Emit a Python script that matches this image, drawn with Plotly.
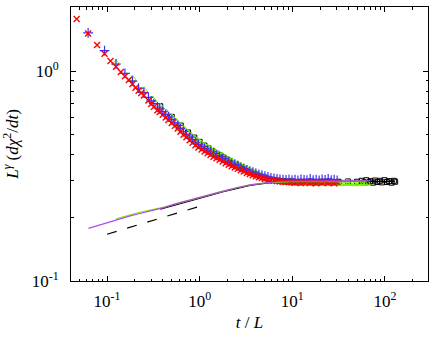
import plotly.graph_objects as go

# ---- data ----
grid_x = [0.28, 0.30, 0.32, 0.35, 0.37, 0.40, 0.43, 0.46, 0.50, 0.54, 0.58, 0.62, 0.67, 0.72, 0.78, 0.84,
          0.90, 0.97, 1.05, 1.13, 1.22, 1.31, 1.41, 1.52, 1.64, 1.77, 1.91, 2.06, 2.22, 2.39, 2.58, 2.78,
          3.0, 3.23, 3.48, 3.75, 4.04, 4.36, 4.70, 5.06, 5.46, 5.88, 6.34, 6.83, 7.36, 7.94, 8.56, 9.22,
          9.94, 10.7, 11.5, 12.4, 13.4, 14.4, 15.6, 16.8, 18.1, 19.5, 21.0, 22.6, 24.4, 26.3, 28.3, 30.5]

red_x = [0.047, 0.0625, 0.078, 0.094, 0.109, 0.125, 0.141, 0.156, 0.172, 0.188, 0.203, 0.219, 0.234, 0.25] + grid_x
red_y = [1.77, 1.51, 1.33, 1.21, 1.116, 1.048, 0.99, 0.945, 0.906, 0.868, 0.832, 0.805, 0.785, 0.765,
         0.724, 0.697, 0.675, 0.651, 0.638, 0.619, 0.601, 0.585, 0.565, 0.548, 0.532, 0.514, 0.497, 0.484, 0.468, 0.455,
         0.443, 0.432, 0.423, 0.414, 0.406, 0.398, 0.391, 0.384, 0.378, 0.371, 0.364, 0.358, 0.352, 0.347, 0.342, 0.337,
         0.332, 0.327, 0.323, 0.319, 0.315, 0.312, 0.309, 0.306, 0.304, 0.302, 0.300, 0.299, 0.298, 0.297, 0.296, 0.295,
         0.296, 0.294, 0.296, 0.293, 0.295, 0.297, 0.293, 0.295, 0.292, 0.296, 0.294, 0.297, 0.293, 0.295, 0.292, 0.296]

blue_x = [0.0625, 0.094, 0.125, 0.156, 0.188, 0.219, 0.25] + grid_x
blue_y = [1.52, 1.25, 1.08, 0.975, 0.895, 0.83, 0.79,
          0.749, 0.721, 0.699, 0.674, 0.660, 0.641, 0.622, 0.605, 0.585, 0.567, 0.551, 0.532, 0.514, 0.501, 0.484, 0.471,
          0.458, 0.447, 0.438, 0.428, 0.420, 0.412, 0.405, 0.397, 0.391, 0.384, 0.377, 0.370, 0.364, 0.359, 0.354, 0.348,
          0.343, 0.338, 0.334, 0.330, 0.326, 0.322, 0.319, 0.316, 0.313, 0.310, 0.308, 0.306, 0.305, 0.304, 0.303, 0.305,
          0.302, 0.304, 0.301, 0.305, 0.303, 0.302, 0.306, 0.302, 0.304, 0.301, 0.305, 0.303, 0.306, 0.302, 0.304, 0.301]

green_x = [0.125, 0.1875, 0.25, 0.3125, 0.375, 0.4375, 0.5, 0.5625, 0.625, 0.6875, 0.75, 0.8125, 0.875, 0.9375, 1.0] \
    + grid_x[18:] + [32.9, 35.4, 38.2, 41.1, 44.3, 47.8, 51.5, 55.5, 59.8, 63.5]
green_y = [1.09, 0.92, 0.81, 0.73, 0.675, 0.634, 0.602, 0.572, 0.546, 0.525, 0.506, 0.491, 0.478, 0.466, 0.457,
           0.450, 0.441, 0.432, 0.424, 0.416, 0.408, 0.401, 0.394, 0.386, 0.379, 0.372, 0.366, 0.360, 0.354,
           0.348, 0.342, 0.336, 0.331, 0.326, 0.321, 0.316, 0.312, 0.308, 0.305, 0.302, 0.300, 0.298, 0.296, 0.295, 0.294,
           0.292, 0.294, 0.291, 0.293, 0.290, 0.294, 0.292, 0.290, 0.293, 0.291, 0.294, 0.290, 0.292, 0.294, 0.291, 0.293,
           0.290, 0.292, 0.294, 0.291, 0.293, 0.290, 0.292, 0.294, 0.291, 0.293]

black_x = [0.375, 0.5, 0.625, 0.75, 0.875, 1.0, 1.125, 1.25, 1.375, 1.5, 1.625, 1.75, 1.875, 2.0, 2.25, 2.5, 2.75,
           3.0, 3.5, 4.0, 4.5, 5.0, 5.6, 6.3, 7.1, 8.0, 9.0, 10.0, 12.6, 15.8, 20.0, 25.0, 31.6, 39.8, 50.0,
           56, 60, 63, 66, 70, 74, 78, 83, 88, 93, 99, 105, 111, 118, 125, 129]
black_y = [0.68, 0.605, 0.55, 0.51, 0.482, 0.46, 0.442, 0.428, 0.416, 0.405, 0.397, 0.389, 0.382, 0.376, 0.365, 0.356, 0.348,
           0.341, 0.331, 0.322, 0.316, 0.311, 0.306, 0.303, 0.301, 0.299, 0.298, 0.298, 0.297, 0.298, 0.297, 0.298, 0.297, 0.298, 0.297,
           0.300, 0.295, 0.302, 0.296, 0.299, 0.294, 0.301, 0.296, 0.300, 0.295, 0.302, 0.296, 0.299, 0.294, 0.300, 0.297]

purple_x = [0.063, 0.08, 0.1, 0.13, 0.17, 0.22, 0.3, 0.4, 0.55, 0.75, 1.0, 1.35, 1.8, 2.5, 3.5, 5.0, 7.0, 10, 15, 25, 40, 70]
purple_y = [0.178, 0.184, 0.19, 0.197, 0.203, 0.209, 0.216, 0.223, 0.233, 0.242, 0.250, 0.259, 0.268, 0.278, 0.287, 0.293,
            0.297, 0.298, 0.299, 0.299, 0.300, 0.300]

gline_x = [0.125, 0.17, 0.22, 0.3, 0.4, 0.55, 0.75, 1.0, 1.35, 1.8, 2.5, 3.5, 5.0, 7.0, 10, 20, 40, 64]
gline_y = [0.198, 0.206, 0.212, 0.218, 0.224, 0.233, 0.242, 0.250, 0.259, 0.268, 0.278, 0.287, 0.293, 0.296, 0.297, 0.297, 0.297, 0.297]

kline_x = [0.375, 0.55, 0.75, 1.0, 1.35, 1.8, 2.5, 3.5, 5.0, 7.0, 10, 20, 50, 128]
kline_y = [0.220, 0.231, 0.240, 0.248, 0.257, 0.266, 0.276, 0.285, 0.292, 0.296, 0.297, 0.298, 0.298, 0.298]

dash_x = [0.1, 0.97]
dash_y = [0.167, 0.226]

x_tickvals = [0.1, 1, 10, 100]
x_ticktext = ["10<sup>-1</sup>", "10<sup>0</sup>", "10<sup>1</sup>", "10<sup>2</sup>"]
y_tickvals = [0.1, 1]
y_ticktext = ["10<sup>-1</sup>", "10<sup>0</sup>"]

assert len(red_x) == len(red_y) and len(blue_x) == len(blue_y) and len(green_x) == len(green_y)
assert len(black_x) == len(black_y)

RED = "#ff0000"
BLUE = "#3333ff"
GREEN = "#77ee00"
BLACK = "#000000"
PURPLE = "#b048e8"

fig = go.Figure()
fig.add_trace(go.Scatter(x=black_x, y=black_y, mode="markers",
                         marker=dict(symbol="square-open", size=5, color=BLACK, line=dict(width=1, color=BLACK))))
fig.add_trace(go.Scatter(x=green_x, y=green_y, mode="markers",
                         marker=dict(symbol="triangle-up-open", size=7, color=GREEN, line=dict(width=1, color=GREEN))))
fig.add_trace(go.Scatter(x=blue_x, y=blue_y, mode="markers",
                         marker=dict(symbol="cross-thin", size=7, color=BLUE, line=dict(width=1.2, color=BLUE))))
fig.add_trace(go.Scatter(x=red_x, y=red_y, mode="markers",
                         marker=dict(symbol="x-thin", size=6, color=RED, line=dict(width=1.4, color=RED))))
fig.add_trace(go.Scatter(x=kline_x, y=kline_y, mode="lines", line=dict(color=BLACK, width=1.2)))
fig.add_trace(go.Scatter(x=gline_x, y=gline_y, mode="lines", line=dict(color=GREEN, width=1.2)))
fig.add_trace(go.Scatter(x=purple_x, y=purple_y, mode="lines", line=dict(color=PURPLE, width=1.2)))
fig.add_trace(go.Scatter(x=dash_x, y=dash_y, mode="lines", line=dict(color=BLACK, width=1.2, dash="10px,11px")))

# minor tick positions (2..9 within each decade)
x_minor = [k * 10.0 ** e for e in range(-2, 3) for k in range(2, 10)]
y_minor = [k * 10.0 ** e for e in range(-1, 1) for k in range(2, 10)]

FONT = "Liberation Serif"
axis_common = dict(showline=True, linecolor="black", linewidth=1, mirror="allticks",
                   ticks="inside", ticklen=5, tickcolor="black", showgrid=False, zeroline=False,
                   tickfont=dict(family=FONT, size=17, color="black"))

fig.update_xaxes(type="log", range=[-1.389, 2.465], tickvals=x_tickvals, ticktext=x_ticktext,
                 ticklabelstandoff=5,
                 minor=dict(ticks="inside", ticklen=2.5, tickcolor="black", showgrid=False, tickvals=x_minor),
                 title=dict(text="<i>t</i> / <i>L</i>", font=dict(family=FONT, size=17, color="black"), standoff=5),
                 **axis_common)
fig.update_yaxes(type="log", range=[-1, 0.305], tickvals=y_tickvals, ticktext=y_ticktext,
                 ticklabelstandoff=8,
                 minor=dict(ticks="inside", ticklen=2.5, tickcolor="black", showgrid=False, tickvals=y_minor),
                 title=dict(text="<i>L</i><sup><i>γ</i></sup> (<i>dχ</i><sup>2</sup>/<i>dt</i>)",
                            font=dict(family=FONT, size=17, color="black"), standoff=8),
                 **axis_common)

fig.update_layout(width=436, height=341, showlegend=False,
                  margin=dict(l=71, r=8, t=7, b=60, autoexpand=False),
                  paper_bgcolor="white", plot_bgcolor="white")

fig.write_html("out.html", config={"displayModeBar": False},
               post_script="document.body.style.margin='0';document.body.style.overflow='hidden';")
